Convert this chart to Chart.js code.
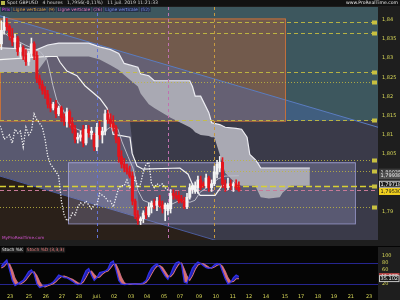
<!DOCTYPE html>
<html>
<head>
<meta charset="utf-8">
<script src="https://cdn.jsdelivr.net/npm/chart.js@4.4.0/dist/chart.umd.min.js"></script>
<style>
  html, body { margin: 0; padding: 0; background: #1c1c1c; }
  #wrap { position: relative; width: 400px; height: 300px; overflow: hidden; }
  #main { position: absolute; left: 0; top: 0; }
  #stoch { position: absolute; left: 0; top: 247px; }
</style>
</head>
<body>
<div id="wrap">
  <canvas id="main" width="400" height="247"></canvas>
  <canvas id="stoch" width="400" height="53"></canvas>
</div>
<script>
// bougies 4h
const opens = [1.8337,1.8372,1.8392,1.8382,1.8357,1.8342,1.8352,1.8317,1.8327,1.8307,
  1.8291,1.8312,1.8337,1.8307,1.8246,1.8231,1.8216,1.8206,1.8180,1.8170,
  1.8180,1.8155,1.8170,1.8145,1.8135,1.8160,1.8130,1.8115,1.8089,1.8094,
  1.8115,1.8079,1.8115,1.8105,1.8100,1.8069,1.8120,1.8100,1.8110,1.8155,
  1.8140,1.8130,1.8120,1.8089,1.8044,1.8024,1.8014,1.8004,1.7993,1.7928,
  1.7892,1.7877,1.7882,1.7897,1.7892,1.7913,1.7923,1.7918,1.7928,1.7918,
  1.7908,1.7903,1.7908,1.7948,1.7943,1.7943,1.7933,1.7928,1.7913,1.7938,
  1.7958,1.7953,1.7963,1.7983,1.7973,1.7968,1.7988,1.7963,1.7973,1.7998,
  1.8014,1.8029,1.7973,1.7963,1.7973,1.7968,1.7973,1.7963];
const highs = [1.8397,1.8408,1.8403,1.8387,1.8377,1.8362,1.8357,1.8337,1.8332,1.8322,
  1.8317,1.8352,1.8342,1.8317,1.8256,1.8241,1.8226,1.8216,1.8195,1.8185,
  1.8190,1.8175,1.8175,1.8155,1.8170,1.8165,1.8145,1.8125,1.8105,1.8110,
  1.8125,1.8125,1.8125,1.8120,1.8105,1.8130,1.8135,1.8120,1.8165,1.8165,
  1.8155,1.8150,1.8125,1.8094,1.8059,1.8039,1.8024,1.8019,1.8004,1.7933,
  1.7903,1.7887,1.7903,1.7913,1.7923,1.7928,1.7933,1.7938,1.7943,1.7928,
  1.7923,1.7923,1.7958,1.7958,1.7953,1.7953,1.7943,1.7938,1.7948,1.7973,
  1.7973,1.7978,1.7993,1.7993,1.7978,1.7998,1.7993,1.7983,1.8019,1.8034,
  1.8044,1.8041,1.7983,1.7988,1.7983,1.7978,1.7983,1.7978];
const lows = [1.8322,1.8362,1.8372,1.8347,1.8332,1.8327,1.8307,1.8302,1.8296,1.8281,
  1.8281,1.8302,1.8296,1.8236,1.8221,1.8206,1.8195,1.8170,1.8160,1.8165,
  1.8145,1.8150,1.8135,1.8125,1.8120,1.8120,1.8105,1.8079,1.8079,1.8084,
  1.8069,1.8074,1.8094,1.8089,1.8059,1.8059,1.8089,1.8079,1.8100,1.8130,
  1.8120,1.8110,1.8079,1.8029,1.8014,1.8004,1.7998,1.7988,1.7918,1.7882,
  1.7867,1.7867,1.7872,1.7882,1.7887,1.7897,1.7908,1.7903,1.7913,1.7897,
  1.7877,1.7892,1.7897,1.7933,1.7933,1.7923,1.7923,1.7908,1.7908,1.7933,
  1.7948,1.7948,1.7948,1.7958,1.7963,1.7963,1.7953,1.7953,1.7968,1.7988,
  1.8004,1.7963,1.7953,1.7958,1.7958,1.7953,1.7958,1.7953];
const closes = [1.8372,1.8392,1.8382,1.8357,1.8342,1.8352,1.8317,1.8327,1.8307,1.8291,
  1.8312,1.8337,1.8307,1.8246,1.8231,1.8216,1.8206,1.8180,1.8170,1.8180,
  1.8155,1.8170,1.8145,1.8135,1.8160,1.8130,1.8115,1.8089,1.8094,1.8100,
  1.8079,1.8115,1.8105,1.8110,1.8069,1.8120,1.8100,1.8110,1.8155,1.8140,
  1.8130,1.8120,1.8089,1.8044,1.8024,1.8014,1.8004,1.7993,1.7928,1.7892,
  1.7877,1.7882,1.7897,1.7892,1.7913,1.7923,1.7918,1.7928,1.7918,1.7908,
  1.7918,1.7918,1.7948,1.7943,1.7938,1.7928,1.7928,1.7913,1.7938,1.7963,
  1.7968,1.7968,1.7983,1.7963,1.7968,1.7988,1.7963,1.7973,1.8004,1.8024,
  1.8029,1.7973,1.7963,1.7973,1.7968,1.7973,1.7963,1.7956];

// stochastique
const stochK = [70,80,88,60,30,15,20,25,30,42, 55,60,48,20,10,12,15,18,20,25,
  35,45,42,38,37,33,28,22,18,20, 40,58,64,45,30,38,52,54,56,62,
  80,85,60,30,20,18,19,20,20,19, 20,21,23,30,50,65,72,77,68,55,
  42,33,48,68,80,83,75,25,22,45, 65,75,82,78,72,66,64,66,74,78,
  76,55,35,20,24,38,45,40.877];
const stochD = [65,70,79,76,59,35,22,20,25,32, 42,52,54,43,26,14,12,15,18,21,
  27,35,41,42,39,36,33,28,23,20, 26,39,54,56,46,38,40,48,54,57,
  66,76,75,58,37,23,19,19,20,20, 20,20,21,25,34,48,62,71,72,67,
  55,43,41,50,65,77,79,61,41,31, 44,62,74,78,77,72,67,65,68,73,
  76,70,55,37,26,27,35,35.102];

// ichimoku (points lus)
const kijunX = [-0.5,16.7,20.4,21.5,24.0,27.7,29.5,30.6,36.1,38.7,39.8,40.9,47.1,47.9,49.7,51.9,65.4,68.4,70.2,72.8,78.3,80.8,87];
const kijunY = [1.8296,1.8304,1.8304,1.8289,1.8266,1.8254,1.8238,1.8228,1.8195,1.8170,1.8145,1.8102,1.8094,1.8052,1.8019,1.8011,1.8014,1.7998,1.7968,1.7943,1.7943,1.7968,1.7972];
const tenkanX = [-0.5,3.9,8.7,14.2,16.7,17.8,18.9,20.4,22.2,24.0,25.9,28.8,32.5,36.1,39.8,42.7,44.2,46.4,48.2,50.0,51.9,54.4,58.1,61.8,65.4,69.1,70.9,72.8,76.4,79.4,81.9,87];
const tenkanY = [1.8372,1.8352,1.8334,1.8317,1.8296,1.8264,1.8228,1.8188,1.8170,1.8145,1.8120,1.8112,1.8102,1.8100,1.8120,1.8115,1.8082,1.8044,1.8014,1.7956,1.7930,1.7923,1.7913,1.7918,1.7930,1.7925,1.7930,1.7951,1.7968,1.7986,1.7993,1.7994];
const cloudX = [-1,13,17,21,32,36,40,43,45,50,51,54,56,62,69,70,71,73,76,77,78,80,82,86,88,90,91,93,94,95,98,102,103,106,113];
const cloudTop = [1.8327,1.8322,1.8334,1.8339,1.8339,1.8329,1.8322,1.8312,1.8286,1.8276,1.8259,1.8254,1.8241,1.8241,1.8241,1.8226,1.8201,1.8201,1.8158,1.8132,1.8130,1.8127,1.8120,1.8117,1.8115,1.8094,1.8049,1.8036,1.8026,1.8014,1.8014,1.8014,1.8014,1.8014,1.8014];
const cloudBottom = [1.8264,1.8264,1.8302,1.8304,1.8304,1.8296,1.8281,1.8269,1.8256,1.8226,1.8208,1.8180,1.8170,1.8145,1.8120,1.8115,1.8107,1.8100,1.8097,1.8094,1.8094,1.8049,1.8001,1.7973,1.7968,1.7968,1.7968,1.7968,1.7953,1.7938,1.7935,1.7938,1.7950,1.7968,1.7968];
const chikouShift = 26;

// axe du temps
const tickBars = [3.2,10.1,16.3,22.2,28.4,35,41.3,47.5,53.3,59.6,65.4,72.4,78.6,84.8,90.7,96.9,103.9,109.8,116,121.8,128,134.7];
const tickLabels = ['23','25','26','27','28','juil.','02','03','04','05','07','09','10','11','12','14','15','17','18','19','21','23'];
const priceTicks = [1.84,1.835,1.83,1.825,1.82,1.815,1.81,1.805,1.79];
const stochTicks = [100,80,60,20];

// niveaux et dessins
const dashedLevels = [1.8393,1.8366,1.8264,1.8139];
const dottedLevels = [1.8239,1.8036,1.8006,1.7913];
const keyLevel = 1.7968;
const markPrices = [1.80035,1.79938,1.79718,1.7953];
const markLabels = ['1,80035','1,79938','1,79718','1,79530'];
const verticalOffsets = [9,26,52];
const verticalColors = ['#c89a40','#c070b0','#6474d8'];
const zoneFloor = 1.8137;
const boxBars = [-0.5,103.9];
const boxPrices = [1.8137,1.8403];
const channelTop = [[-0.5,1.8410],[138,1.8120]];
const channelBottom = [[-0.5,1.7993],[138,1.7700]];
const midShade = [[-0.5,1.8137],[47.1,1.8137],[50.8,1.7885],[-0.5,1.7993]];
const rangeBars = [24.4,129.5];
const rangePrices = [1.7870,1.8029];

const xMin = -0.5, xMax = 137.96;
const FONT = 'DejaVu Sans';
const axisColor = '#d8d858';
const upColor = '#f4f4f4', downColor = '#e5141c';

const candleColor = (i) => closes[i] >= opens[i] ? upColor : downColor;
const last = closes.length - 1;

function tag(ctx, text, x, y, fg, bg, border) {
  ctx.font = '5px ' + FONT;
  const w = ctx.measureText(text).width + 3;
  ctx.fillStyle = bg;
  ctx.fillRect(x, y - 3.5, w, 7);
  if (border) { ctx.strokeStyle = border; ctx.lineWidth = 1; ctx.strokeRect(x + 0.5, y - 3, w - 1, 6); }
  ctx.fillStyle = fg;
  ctx.textBaseline = 'middle';
  ctx.textAlign = 'left';
  ctx.fillText(text, x + 1.5, y + 0.3);
}

const backdrop = {
  id: 'backdrop',
  beforeDraw(chart) {
    const ctx = chart.ctx;
    ctx.save();
    ctx.fillStyle = '#1e1e1e';
    ctx.fillRect(0, 0, chart.width, chart.height);
    ctx.fillStyle = '#050505';
    ctx.fillRect(0, chart.height - 1, chart.width, 1);
    ctx.restore();
  },
  beforeDatasetsDraw(chart) {
    const { ctx, chartArea: a, scales: { x, y } } = chart;
    const P = (b, p) => [x.getPixelForValue(b), y.getPixelForValue(p)];
    ctx.save();
    ctx.beginPath();
    ctx.rect(a.left, a.top, a.width, a.height);
    ctx.clip();

    ctx.fillStyle = '#3a3a49';
    ctx.fillRect(a.left, a.top, a.width, a.height);

    const yz = y.getPixelForValue(zoneFloor);
    ctx.fillStyle = '#3d575e';
    ctx.fillRect(a.left, a.top, a.width, yz - a.top);

    const [bx0, by0] = P(boxBars[0], boxPrices[1]);
    const [bx1, by1] = P(boxBars[1], boxPrices[0]);
    ctx.fillStyle = '#725a4c';
    ctx.fillRect(bx0, by0, bx1 - bx0, by1 - by0);

    // canal : teinte sous la ligne haute
    const [u0x, u0y] = P(channelTop[0][0], channelTop[0][1]);
    const [u1x, u1y] = P(channelTop[1][0], channelTop[1][1]);
    ctx.save();
    ctx.beginPath();
    ctx.rect(a.left, a.top, a.width, yz - a.top);
    ctx.clip();
    ctx.beginPath();
    ctx.moveTo(u0x, u0y); ctx.lineTo(u1x, u1y);
    ctx.lineTo(u1x, a.bottom); ctx.lineTo(u0x, a.bottom);
    ctx.closePath();
    ctx.fillStyle = 'rgba(72,112,205,0.3)';
    ctx.fill();
    ctx.restore();

    ctx.beginPath();
    midShade.forEach((pt, i) => {
      const [px, py] = P(pt[0], pt[1]);
      if (i === 0) ctx.moveTo(px, py); else ctx.lineTo(px, py);
    });
    ctx.closePath();
    ctx.fillStyle = '#595970';
    ctx.fill();

    const [l0x, l0y] = P(channelBottom[0][0], channelBottom[0][1]);
    const [l1x, l1y] = P(channelBottom[1][0], channelBottom[1][1]);
    ctx.beginPath();
    ctx.moveTo(l0x, l0y); ctx.lineTo(l1x, l1y);
    ctx.lineTo(l1x, a.bottom + 60); ctx.lineTo(l0x, a.bottom + 60);
    ctx.closePath();
    ctx.fillStyle = '#2a2019';
    ctx.fill();

    ctx.lineWidth = 1;
    ctx.strokeStyle = '#5a7cc0';
    ctx.beginPath(); ctx.moveTo(u0x, u0y); ctx.lineTo(u1x, u1y); ctx.stroke();
    ctx.strokeStyle = '#4c5c9c';
    ctx.beginPath(); ctx.moveTo(l0x, l0y); ctx.lineTo(l1x, l1y); ctx.stroke();

    ctx.strokeStyle = '#c4703c';
    ctx.strokeRect(bx0 + 0.5, by0 + 0.5, bx1 - bx0, by1 - by0);

    const [rx0, ry0] = P(rangeBars[0], rangePrices[1]);
    const [rx1, ry1] = P(rangeBars[1], rangePrices[0]);
    ctx.fillStyle = 'rgba(178,178,232,0.26)';
    ctx.fillRect(rx0, ry0, rx1 - rx0, ry1 - ry0);
    ctx.strokeStyle = 'rgba(165,165,220,0.8)';
    ctx.strokeRect(rx0 + 0.5, ry0 + 0.5, rx1 - rx0, ry1 - ry0);
    ctx.restore();
  },
  afterDatasetDraw(chart, args) {
    if (args.index !== 1) return; // juste après le nuage
    const { ctx, chartArea: a, scales: { x, y } } = chart;
    ctx.save();
    ctx.beginPath();
    ctx.rect(a.left, a.top, a.width, a.height);
    ctx.clip();
    const hline = (p, color, dash, w) => {
      const py = Math.round(y.getPixelForValue(p)) + 0.5;
      ctx.strokeStyle = color; ctx.lineWidth = w; ctx.setLineDash(dash);
      ctx.beginPath(); ctx.moveTo(a.left, py); ctx.lineTo(a.right, py); ctx.stroke();
      ctx.setLineDash([]);
      ctx.fillStyle = '#c8c040';
      ctx.fillRect(a.right - 6, py - 2, 5, 4);
    };
    dashedLevels.forEach(p => hline(p, 'rgba(196,188,64,0.9)', [4, 3], 1));
    dottedLevels.forEach(p => hline(p, 'rgba(190,182,64,0.85)', [1, 2], 1));
    hline(keyLevel, '#d8d034', [6, 3], 1.3);
    const py = Math.round(y.getPixelForValue(closes[last])) + 0.5;
    ctx.strokeStyle = '#c87a98'; ctx.lineWidth = 1; ctx.setLineDash([4, 3]);
    ctx.beginPath(); ctx.moveTo(a.left, py); ctx.lineTo(a.right, py); ctx.stroke();

    verticalOffsets.forEach((off, k) => {
      const px = Math.round(x.getPixelForValue(last - off)) + 0.5;
      ctx.strokeStyle = verticalColors[k]; ctx.setLineDash([3, 3]);
      ctx.beginPath(); ctx.moveTo(px, a.top); ctx.lineTo(px, a.bottom); ctx.stroke();
    });
    ctx.restore();
  },
  afterDraw(chart) {
    const { ctx, chartArea: a, scales: { y } } = chart;
    ctx.save();
    ctx.fillStyle = '#121212';
    ctx.fillRect(0, 0, chart.width, 6);
    ctx.font = '4.6px ' + FONT;
    ctx.textBaseline = 'middle';
    ctx.textAlign = 'left';
    ctx.fillStyle = '#b8b84a';
    ctx.fillRect(1, 1, 4, 4);
    ctx.fillStyle = '#d4d4d4';
    ctx.fillText('Spot GBPUSD   4 heures   1,7956(-0,11%)   11 juil. 2019 11:21:33', 7, 3.2);
    ctx.textAlign = 'right';
    ctx.fillStyle = '#e6e6e6';
    ctx.fillText('www.ProRealTime.com', 398, 3.2);

    // légende
    const items = [['Prix', '#e244e2'], ['Ligne verticale', '#e6a43c'], ['(9)', '#e6a43c'],
      ['Ligne verticale', '#e878b8'], ['(26)', '#e878b8'], ['Ligne verticale', '#7a8cf0'], ['(52)', '#7a8cf0']];
    ctx.font = '4.4px ' + FONT;
    ctx.textAlign = 'left';
    let lx = 1;
    items.forEach(([t, c]) => {
      const w = ctx.measureText(t).width;
      ctx.fillStyle = '#243046';
      ctx.fillRect(lx, 7, w + 2, 5);
      ctx.fillStyle = c;
      ctx.fillText(t, lx + 1, 9.6);
      lx += w + 3;
    });

    ctx.font = '4.2px ' + FONT;
    ctx.fillStyle = '#d454d4';
    ctx.fillText('MyProRealTime.com', 2, a.bottom - 2.5);

    markPrices.forEach((p, i) => {
      const yy = y.getPixelForValue(p);
      if (i === 3) tag(ctx, markLabels[i], a.right + 1, yy, '#111111', '#f0d020');
      else if (i === 2) tag(ctx, markLabels[i], a.right + 1, yy, '#ffffff', '#1a1a1a', '#d0d0d0');
      else tag(ctx, markLabels[i], a.right + 1, yy, '#f0f0f0', i === 0 ? '#3a3a3a' : '#4e4e4e');
    });
    ctx.restore();
  }
};

new Chart(document.getElementById('main'), {
  type: 'bar',
  data: {
    datasets: [
      { type: 'line', data: cloudX.map((b, i) => ({ x: b, y: cloudTop[i] })), borderColor: '#ececf2',
        borderWidth: 1.2, pointRadius: 0, fill: '+1', backgroundColor: '#a9a9b3', order: 10 },
      { type: 'line', data: cloudX.map((b, i) => ({ x: b, y: cloudBottom[i] })), borderColor: 'rgba(0,0,0,0)',
        borderWidth: 0, pointRadius: 0, fill: false, order: 9 },
      { type: 'line', data: kijunX.map((b, i) => ({ x: b, y: kijunY[i] })), borderColor: '#f4f4f4',
        borderWidth: 1.2, pointRadius: 0, fill: false, order: 6 },
      { type: 'line', data: tenkanX.map((b, i) => ({ x: b, y: tenkanY[i] })), borderColor: '#bcbcc8',
        borderWidth: 1, pointRadius: 0, fill: false, order: 5 },
      { type: 'line', data: closes.map((c, i) => ({ x: i - chikouShift, y: c })), borderColor: '#f4f4f4',
        borderWidth: 1.3, borderDash: [1.3, 1.5], pointRadius: 0, fill: false, order: 4 },
      { type: 'bar', data: highs.map((h, i) => ({ x: i, y: [lows[i], h] })), grouped: false,
        backgroundColor: (c) => candleColor(c.dataIndex), barThickness: 1, order: 2 },
      { type: 'bar', data: opens.map((o, i) => ({ x: i, y: [o, closes[i]] })), grouped: false,
        backgroundColor: (c) => candleColor(c.dataIndex), barThickness: 2.4, minBarLength: 1, order: 1 }
    ]
  },
  options: {
    responsive: false,
    animation: false,
    layout: { padding: { top: 6, bottom: 1, left: 0, right: 0 } },
    plugins: { legend: { display: false }, tooltip: { enabled: false } },
    scales: {
      x: { type: 'linear', min: xMin, max: xMax, offset: false, display: false },
      y: {
        position: 'right', min: 1.78268, max: 1.84328,
        grid: { display: false, drawTicks: false }, border: { display: false },
        afterFit: (s) => { s.width = 22; },
        afterBuildTicks: (s) => { s.ticks = priceTicks.map(v => ({ value: v })); },
        ticks: { color: axisColor, font: { size: 5, family: FONT }, padding: 4,
          callback: (v) => String(v).replace('.', ',') }
      }
    }
  },
  plugins: [backdrop]
});

const stochDeco = {
  id: 'stochDeco',
  beforeDraw(chart) {
    const { ctx, chartArea: a } = chart;
    ctx.save();
    ctx.fillStyle = '#050505';
    ctx.fillRect(0, 0, chart.width, chart.height);
    ctx.fillStyle = '#1e1e1e';
    ctx.fillRect(a.right, 0, chart.width - a.right, chart.height);
    ctx.restore();
  },
  beforeDatasetsDraw(chart) {
    const { ctx, chartArea: a, scales: { y } } = chart;
    ctx.save();
    ctx.strokeStyle = '#262690';
    ctx.lineWidth = 1;
    [80, 20].forEach(v => {
      const py = Math.round(y.getPixelForValue(v)) + 0.5;
      ctx.beginPath(); ctx.moveTo(a.left, py); ctx.lineTo(a.right, py); ctx.stroke();
    });
    ctx.restore();
  },
  afterDraw(chart) {
    const { ctx, chartArea: a, scales: { y } } = chart;
    ctx.save();
    ctx.font = '4.4px ' + FONT;
    ctx.textBaseline = 'middle';
    ctx.textAlign = 'left';
    let w = ctx.measureText('Stoch %K').width;
    ctx.fillStyle = '#222222'; ctx.fillRect(1, 0.5, w + 2, 5);
    ctx.fillStyle = '#e8e8e8'; ctx.fillText('Stoch %K', 2, 3.2);
    const x2 = w + 5;
    const w2 = ctx.measureText('Stoch %D (3,3,3)').width;
    ctx.fillStyle = '#222222'; ctx.fillRect(x2, 0.5, w2 + 2, 5);
    ctx.fillStyle = '#e87878'; ctx.fillText('Stoch %D (3,3,3)', x2 + 1, 3.2);

    tag(ctx, stochK[last].toFixed(3), a.right + 1, y.getPixelForValue(stochK[last]), '#f0f0f0', '#b84848');
    tag(ctx, stochD[last].toFixed(3), a.right + 1, y.getPixelForValue(stochD[last]), '#f0f0f0', '#1a1a1a', '#c8c8c8');
    ctx.restore();
  }
};

new Chart(document.getElementById('stoch'), {
  type: 'line',
  data: {
    datasets: [
      { data: stochK.map((v, i) => ({ x: i, y: v })), borderColor: '#3030e4', borderWidth: 1.3, pointRadius: 0,
        fill: { target: 1, above: 'rgba(36,36,190,0.95)', below: 'rgba(226,116,116,0.95)' } },
      { data: stochD.map((v, i) => ({ x: i, y: v })), borderColor: '#e27c7c', borderWidth: 1.3, pointRadius: 0, fill: false }
    ]
  },
  options: {
    responsive: false,
    animation: false,
    layout: { padding: 0 },
    plugins: { legend: { display: false }, tooltip: { enabled: false } },
    scales: {
      x: {
        type: 'linear', min: xMin, max: xMax, offset: false,
        grid: { display: false, drawTicks: false }, border: { display: false },
        afterFit: (s) => { s.height = 8; },
        afterBuildTicks: (s) => { s.ticks = tickBars.map(v => ({ value: v })); },
        ticks: { color: axisColor, font: { size: 5, family: FONT }, padding: 2, maxRotation: 0, autoSkip: false,
          callback: (v, i) => tickLabels[i] }
      },
      y: {
        position: 'right', min: -3, max: 105,
        grid: { display: false, drawTicks: false }, border: { display: false },
        afterFit: (s) => { s.width = 22; },
        afterBuildTicks: (s) => { s.ticks = stochTicks.map(v => ({ value: v })); },
        ticks: { color: axisColor, font: { size: 5, family: FONT }, padding: 4 }
      }
    }
  },
  plugins: [stochDeco]
});
</script>
</body>
</html>
